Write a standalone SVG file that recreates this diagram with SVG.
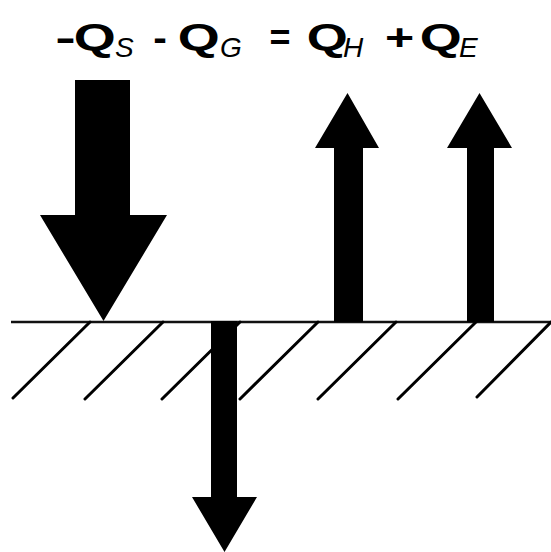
<svg xmlns="http://www.w3.org/2000/svg" width="551" height="552" viewBox="0 0 551 552">
<style>
.m{font-family:"Liberation Sans",Arial,sans-serif;font-weight:bold;font-size:37px;fill:#000}
.s{font-family:"Liberation Sans",Arial,sans-serif;font-style:italic;font-size:28px;fill:#000}
.hatch{stroke:#000;stroke-width:3;stroke-linecap:round;fill:none}
.arrow{fill:#000}
</style>
<rect width="551" height="552" fill="#fff"/>
<g id="equation">
<text class="m" x="55.3" y="50" textLength="20.5" lengthAdjust="spacingAndGlyphs">-</text>
<text class="m" x="73.8" y="50" textLength="42" lengthAdjust="spacingAndGlyphs">Q</text>
<text class="s" x="115" y="57">S</text>
<text class="m" x="153.2" y="50" textLength="13.6" lengthAdjust="spacingAndGlyphs">-</text>
<text class="m" x="177.8" y="50" textLength="42" lengthAdjust="spacingAndGlyphs">Q</text>
<text class="s" x="220" y="57">G</text>
<text class="m" x="269.5" y="50" textLength="21" lengthAdjust="spacingAndGlyphs">=</text>
<text class="m" x="306.8" y="50" textLength="41" lengthAdjust="spacingAndGlyphs">Q</text>
<text class="s" x="343" y="57">H</text>
<text class="m" x="385" y="50" textLength="29.2" lengthAdjust="spacingAndGlyphs">+</text>
<text class="m" x="419.8" y="50" textLength="42" lengthAdjust="spacingAndGlyphs">Q</text>
<text class="s" x="459" y="57">E</text>
</g>
<g id="ground">
<line x1="11" y1="322" x2="551" y2="322" stroke="#111" stroke-width="2.5"/>
<path class="hatch" d="M90 322L13 398M163 322L85 399M240 322L162 399M318 322L240 399M396 322L318 399M476 322L398 399M551 322L477 397"/>
</g>
<g id="connectors">
<polygon id="QS" class="arrow" points="75,80 130,80 130,215 167,215 103.5,321 40,215 75,215"/>
<polygon id="QG" class="arrow" points="211,321 237,321 237,497 257,497 224.5,552 192,497 211,497"/>
<polygon id="QH" class="arrow" points="334,322 363,322 363,148 379,148 347.5,93 315,148 334,148"/>
<polygon id="QE" class="arrow" points="467,322 494,322 494,148 512,148 479.5,93 447,148 467,148"/>
</g>
</svg>
